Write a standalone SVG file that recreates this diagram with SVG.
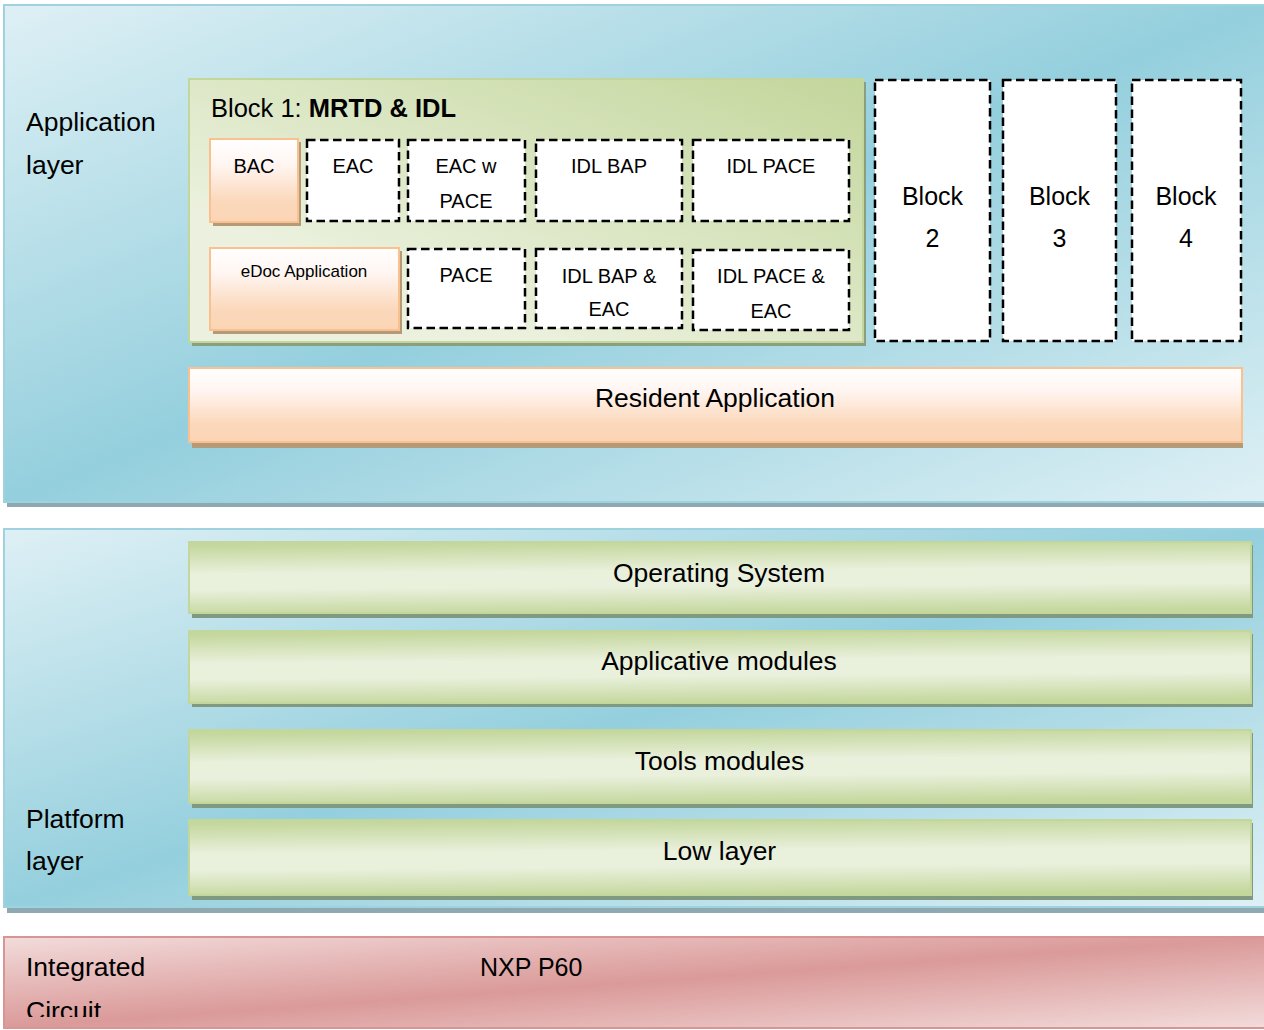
<svg xmlns="http://www.w3.org/2000/svg" width="1264" height="1030" viewBox="0 0 1264 1030">
<defs>
<linearGradient id="gBlue" x1="0" y1="0" x2="1" y2="1">
<stop offset="0" stop-color="#def0f5"/><stop offset="0.5" stop-color="#94cfdd"/><stop offset="1" stop-color="#def0f5"/>
</linearGradient>
<linearGradient id="gPink" x1="0" y1="0" x2="1" y2="1">
<stop offset="0" stop-color="#f2dcdb"/><stop offset="0.5" stop-color="#da9a99"/><stop offset="1" stop-color="#f2dcdb"/>
</linearGradient>
<linearGradient id="gGreenBar" x1="0.45" y1="0" x2="0.55" y2="1">
<stop offset="0" stop-color="#c4d79c"/><stop offset="0.4" stop-color="#e9f0dc"/><stop offset="0.62" stop-color="#e9f0dc"/><stop offset="1" stop-color="#c4d79c"/>
</linearGradient>
<linearGradient id="gGreenBlock" x1="1" y1="0" x2="0" y2="1">
<stop offset="0" stop-color="#c3d69b"/><stop offset="0.75" stop-color="#ebf1de"/><stop offset="1" stop-color="#ebf1de"/>
</linearGradient>
<linearGradient id="gOrange" x1="0" y1="0" x2="0" y2="1">
<stop offset="0" stop-color="#ffffff"/><stop offset="0.3" stop-color="#fff6f2"/><stop offset="0.75" stop-color="#fbd8bb"/><stop offset="1" stop-color="#fbd5b5"/>
</linearGradient>
<clipPath id="icClip"><rect x="0" y="930" width="1264" height="87"/></clipPath>
</defs>
<style>
text{font-family:"Liberation Sans",Arial,sans-serif;fill:#000}
.lbl{font-size:26.5px}
.blk{font-size:25px}
.mid{text-anchor:middle}
.sm{font-size:20px}
.bar{fill:url(#gGreenBar);stroke:#c3d69b;stroke-width:2}
.barsh{fill:#7f9a80}
.dash{fill:#fff;stroke:#000;stroke-width:2.5;stroke-dasharray:8.5 4.5}
.or{fill:url(#gOrange);stroke:#fac08f;stroke-width:2}
.orsh{fill:#b59a78}
.panel{fill:url(#gBlue);stroke:#9fd2df;stroke-width:2}
.panelsh{fill:#8fa9b2}
</style>

<g id="application-layer">
<rect class="panelsh" x="7" y="8" width="1262" height="499"/>
<rect class="panel" x="4" y="5" width="1264" height="497"/>
<text class="lbl" x="26" y="131">Application</text>
<text class="lbl" x="26" y="174">layer</text>
</g>

<g id="block1">
<rect fill="#8a9f7e" x="192" y="82" width="674" height="264"/>
<rect fill="url(#gGreenBlock)" stroke="#c3d69b" stroke-width="2" x="189" y="79" width="674" height="263"/>
<text x="211" y="117" style="font-size:25.5px">Block 1: <tspan font-weight="bold">MRTD &amp; IDL</tspan></text>
</g>

<g id="bac">
<rect class="orsh" x="213" y="142" width="88" height="84"/>
<rect class="or" x="210" y="139" width="88" height="83"/>
<text class="sm mid" x="254" y="173">BAC</text>
</g>
<g id="eac">
<rect class="dash" x="307" y="140" width="92" height="81"/>
<text class="sm mid" x="353" y="173">EAC</text>
</g>
<g id="eac-w-pace">
<rect class="dash" x="408" y="140" width="117" height="81"/>
<text class="sm mid" x="466" y="173">EAC w</text>
<text class="sm mid" x="466" y="208">PACE</text>
</g>
<g id="idl-bap">
<rect class="dash" x="536" y="140" width="146" height="81"/>
<text class="sm mid" x="609" y="173">IDL BAP</text>
</g>
<g id="idl-pace">
<rect class="dash" x="693" y="140" width="156" height="81"/>
<text class="sm mid" x="771" y="173">IDL PACE</text>
</g>
<g id="edoc">
<rect class="orsh" x="213" y="251" width="189" height="83"/>
<rect class="or" x="210" y="248" width="189" height="82"/>
<text class="mid" x="304" y="277" style="font-size:17px">eDoc Application</text>
</g>
<g id="pace">
<rect class="dash" x="408" y="249" width="117" height="79"/>
<text class="sm mid" x="466" y="282">PACE</text>
</g>
<g id="idl-bap-eac">
<rect class="dash" x="536" y="249" width="146" height="79"/>
<text class="sm mid" x="609" y="283">IDL BAP &amp;</text>
<text class="sm mid" x="609" y="316">EAC</text>
</g>
<g id="idl-pace-eac">
<rect class="dash" x="693" y="250" width="156" height="80"/>
<text class="sm mid" x="771" y="283">IDL PACE &amp;</text>
<text class="sm mid" x="771" y="318">EAC</text>
</g>

<g id="block2">
<rect class="dash" x="875" y="80" width="115" height="261"/>
<text class="blk mid" x="932.5" y="205">Block</text>
<text class="blk mid" x="932.5" y="247">2</text>
</g>
<g id="block3">
<rect class="dash" x="1003" y="80" width="113" height="261"/>
<text class="blk mid" x="1059.5" y="205">Block</text>
<text class="blk mid" x="1059.5" y="247">3</text>
</g>
<g id="block4">
<rect class="dash" x="1132" y="80" width="109" height="261"/>
<text class="blk mid" x="1186" y="205">Block</text>
<text class="blk mid" x="1186" y="247">4</text>
</g>

<g id="resident-application">
<rect class="orsh" x="192" y="371" width="1051" height="77"/>
<rect class="or" x="189" y="368" width="1053" height="74"/>
<text class="lbl mid" x="715" y="407">Resident Application</text>
</g>

<g id="platform-layer">
<rect class="panelsh" x="7" y="532" width="1262" height="381"/>
<rect class="panel" x="4" y="529" width="1264" height="378"/>
<text class="lbl" x="26" y="828">Platform</text>
<text class="lbl" x="26" y="870">layer</text>
</g>

<g id="operating-system">
<rect class="barsh" x="192" y="545" width="1061" height="73"/>
<rect class="bar" x="189" y="542" width="1062" height="71"/>
<text class="lbl mid" x="719" y="582">Operating System</text>
</g>
<g id="applicative-modules">
<rect class="barsh" x="192" y="634" width="1061" height="73"/>
<rect class="bar" x="189" y="631" width="1062" height="72"/>
<text class="lbl mid" x="719" y="670">Applicative modules</text>
</g>
<g id="tools-modules">
<rect class="barsh" x="192" y="733" width="1061" height="75"/>
<rect class="bar" x="189" y="730" width="1062" height="73"/>
<text class="lbl mid" x="719.5" y="770">Tools modules</text>
</g>
<g id="low-layer">
<rect class="barsh" x="192" y="823" width="1061" height="77"/>
<rect class="bar" x="189" y="820" width="1062" height="75"/>
<text class="lbl mid" x="719.5" y="860">Low layer</text>
</g>

<g id="integrated-circuit">
<rect fill="url(#gPink)" stroke="#d99594" stroke-width="2" x="4" y="937" width="1264" height="91"/>
<text class="lbl" x="26" y="976">Integrated</text>
<text class="lbl" x="26" y="1020" clip-path="url(#icClip)">Circuit</text>
<text class="blk" x="480" y="976">NXP P60</text>
</g>

<g id="connectors"></g>
</svg>
